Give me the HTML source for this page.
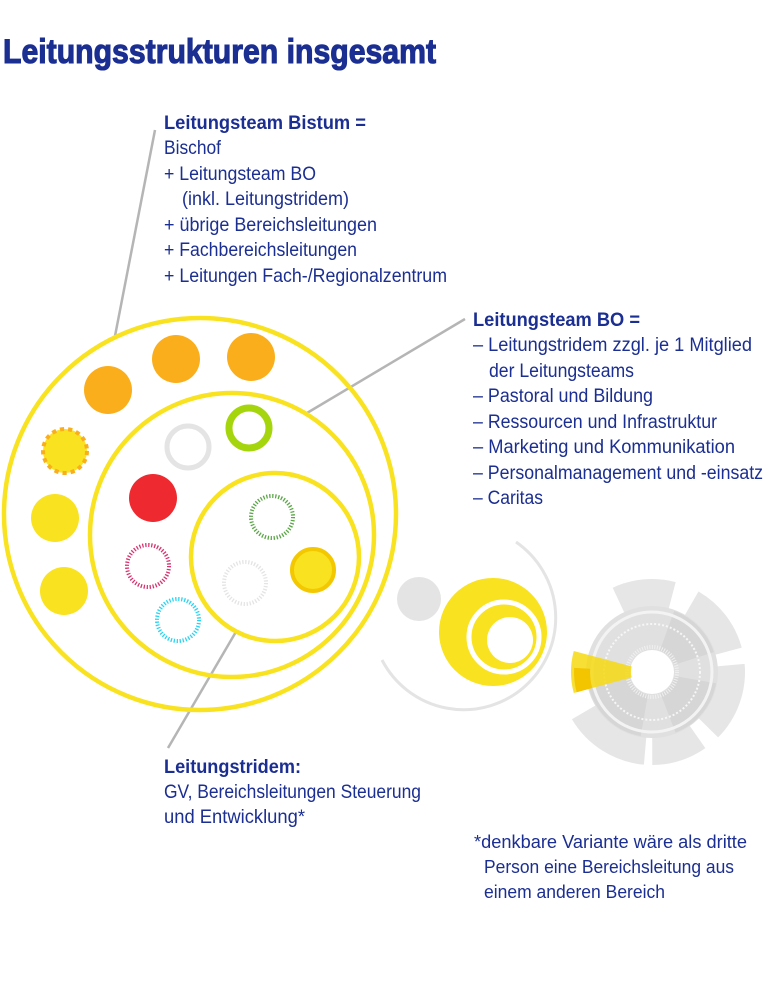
<!DOCTYPE html>
<html><head><meta charset="utf-8"><style>
html,body{margin:0;padding:0;background:#fff;}
svg{display:block;}
text{font-family:"Liberation Sans Narrow","Liberation Sans",sans-serif;fill:#1b2e91;}
.b{font-weight:bold;}
</style></head><body>
<svg width="767" height="1000" viewBox="0 0 767 1000" xmlns="http://www.w3.org/2000/svg">
<text x="3" y="63" font-size="34" textLength="433" lengthAdjust="spacingAndGlyphs" stroke="#1b2e91" stroke-width="1.1" style="font-family:'Liberation Sans',sans-serif;font-weight:bold">Leitungsstrukturen insgesamt</text>

<g stroke="#b5b5b5" stroke-width="2.5" fill="none">
<line x1="115" y1="336" x2="155" y2="130"/>
<line x1="307" y1="413" x2="465" y2="319"/>
<line x1="237" y1="630" x2="168" y2="748"/>
</g>

<g fill="none" stroke="#f9e21f" stroke-width="4.5">
<circle cx="200" cy="514" r="196"/>
<circle cx="232" cy="535" r="142"/>
<circle cx="275" cy="557" r="84"/>
</g>

<circle cx="108" cy="390" r="24" fill="#fbae1c"/>
<circle cx="176" cy="359" r="24" fill="#fbae1c"/>
<circle cx="251" cy="357" r="24" fill="#fbae1c"/>
<circle cx="65" cy="451" r="22" fill="#f9e21f" stroke="#fbae1c" stroke-width="4" stroke-dasharray="4.2 4"/>
<circle cx="55" cy="518" r="24" fill="#f9e21f"/>
<circle cx="64" cy="591" r="24" fill="#f9e21f"/>
<circle cx="188" cy="447" r="21" fill="none" stroke="#e4e4e4" stroke-width="5"/>
<circle cx="249" cy="428" r="20" fill="none" stroke="#a5d50d" stroke-width="7"/>
<circle cx="153" cy="498" r="24" fill="#ee2a30"/>
<circle cx="148" cy="566" r="21" fill="none" stroke="#d6336f" stroke-width="4" stroke-dasharray="1.3 1.7"/>
<circle cx="178" cy="620" r="21" fill="none" stroke="#29d4f2" stroke-width="4" stroke-dasharray="1.3 1.7"/>
<circle cx="272" cy="517" r="21" fill="none" stroke="#5aa646" stroke-width="4" stroke-dasharray="1.3 1.7"/>
<circle cx="245" cy="583" r="21" fill="none" stroke="#e4e4e4" stroke-width="4" stroke-dasharray="1.3 1.7"/>
<circle cx="313" cy="570" r="21" fill="#f9e21f" stroke="#f3c800" stroke-width="4"/>

<path d="M516 542 A92 92 0 1 1 382 660" fill="none" stroke="#e4e4e4" stroke-width="3"/>
<circle cx="419" cy="599" r="22" fill="#e4e4e4"/>
<circle cx="493" cy="632" r="54" fill="#f9e21f"/>
<circle cx="504" cy="637" r="35" fill="none" stroke="#fff" stroke-width="5"/>
<circle cx="510" cy="640" r="23" fill="#fff"/>

<g transform="translate(652 672)">
  <g fill="none" stroke="#e6e6e6" stroke-width="28">
    <circle r="79" stroke-dasharray="54.8 500" transform="rotate(-115)"/>
    <circle r="79" stroke-dasharray="61.7 500" transform="rotate(-60)"/>
    <circle r="79" stroke-dasharray="68.5 500" transform="rotate(-5)"/>
    <circle r="79" stroke-dasharray="48 500" transform="rotate(55)"/>
    <circle r="79" stroke-dasharray="75 500" transform="rotate(95)"/>
  </g>
  <circle r="66" fill="#e0e0e0"/>
  <g fill="none" stroke="#d6d6d6" stroke-width="42">
    <circle r="44" stroke-dasharray="40 500" transform="rotate(-70)"/>
    <circle r="44" stroke-dasharray="45 500" transform="rotate(10)"/>
    <circle r="44" stroke-dasharray="50 500" transform="rotate(100)"/>
  </g>
  <circle r="60" fill="none" stroke="#f3f3f3" stroke-width="3"/>
  <circle r="48" fill="none" stroke="#f6f6f6" stroke-width="2" stroke-dasharray="2 2"/>
  <circle r="25" fill="none" stroke="#f0f0f0" stroke-width="4" stroke-dasharray="1 1.5"/>
  <circle r="22" fill="#fff"/>
  <circle r="51" fill="none" stroke="#f5d80a" stroke-opacity="0.82" stroke-width="60" stroke-dasharray="26.7 500" transform="rotate(165)"/>
  <circle r="70" fill="none" stroke="#f2c500" stroke-width="16" stroke-dasharray="22 500" transform="rotate(165)"/>
</g>

<g font-size="19">
<text x="164" y="129" class="b" textLength="202" lengthAdjust="spacingAndGlyphs">Leitungsteam Bistum =</text>
<text x="164" y="154" textLength="57" lengthAdjust="spacingAndGlyphs">Bischof</text>
<text x="164" y="180" textLength="152" lengthAdjust="spacingAndGlyphs">+ Leitungsteam BO</text>
<text x="182" y="205" textLength="167" lengthAdjust="spacingAndGlyphs">(inkl. Leitungstridem)</text>
<text x="164" y="231" textLength="213" lengthAdjust="spacingAndGlyphs">+ übrige Bereichsleitungen</text>
<text x="164" y="256" textLength="193" lengthAdjust="spacingAndGlyphs">+ Fachbereichsleitungen</text>
<text x="164" y="282" textLength="283" lengthAdjust="spacingAndGlyphs">+ Leitungen Fach-/Regionalzentrum</text>

<text x="473" y="326" class="b" textLength="167" lengthAdjust="spacingAndGlyphs">Leitungsteam BO =</text>
<text x="473" y="351" textLength="279" lengthAdjust="spacingAndGlyphs">– Leitungstridem zzgl. je 1 Mitglied</text>
<text x="489" y="377" textLength="145" lengthAdjust="spacingAndGlyphs">der Leitungsteams</text>
<text x="473" y="402" textLength="180" lengthAdjust="spacingAndGlyphs">– Pastoral und Bildung</text>
<text x="473" y="428" textLength="244" lengthAdjust="spacingAndGlyphs">– Ressourcen und Infrastruktur</text>
<text x="473" y="453" textLength="262" lengthAdjust="spacingAndGlyphs">– Marketing und Kommunikation</text>
<text x="473" y="479" textLength="290" lengthAdjust="spacingAndGlyphs">– Personalmanagement und -einsatz</text>
<text x="473" y="504" textLength="70" lengthAdjust="spacingAndGlyphs">– Caritas</text>

<text x="164" y="773" class="b" textLength="137" lengthAdjust="spacingAndGlyphs">Leitungstridem:</text>
<text x="164" y="798" textLength="257" lengthAdjust="spacingAndGlyphs">GV, Bereichsleitungen Steuerung</text>
<text x="164" y="823" textLength="141" lengthAdjust="spacingAndGlyphs">und Entwicklung*</text>
</g>
<g font-size="18">
<text x="474" y="848" textLength="273" lengthAdjust="spacingAndGlyphs">*denkbare Variante wäre als dritte</text>
<text x="484" y="873" textLength="250" lengthAdjust="spacingAndGlyphs">Person eine Bereichsleitung aus</text>
<text x="484" y="898" textLength="181" lengthAdjust="spacingAndGlyphs">einem anderen Bereich</text>
</g>
</svg>
</body></html>
